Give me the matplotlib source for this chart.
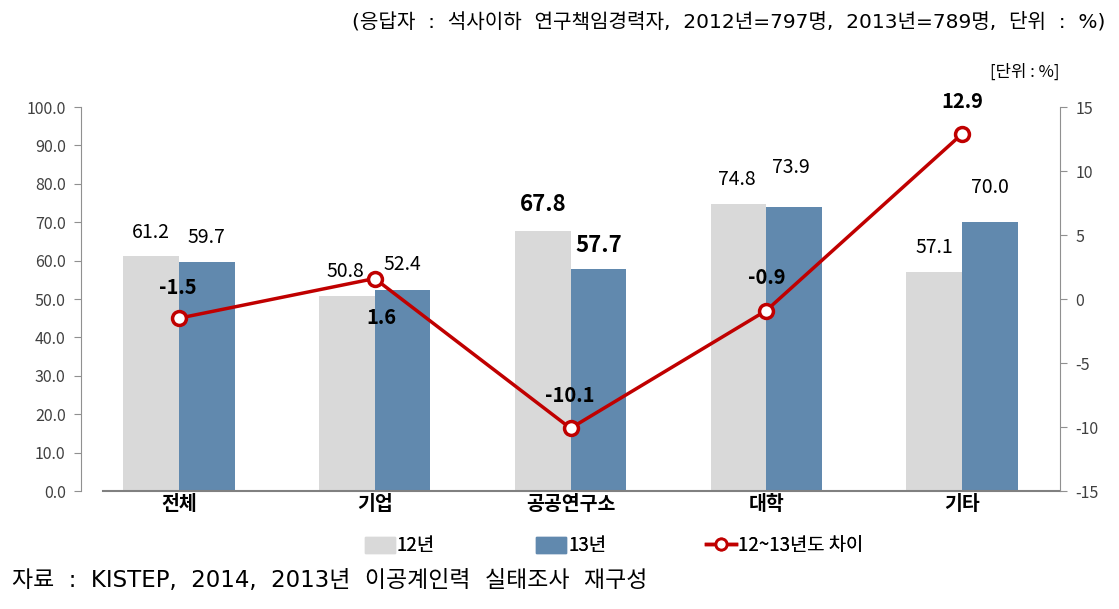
import numpy as np
import matplotlib
matplotlib.use('Agg')
import matplotlib.pyplot as plt
from matplotlib.patches import Patch
from matplotlib.lines import Line2D

plt.rcParams['font.family'] = ['Noto Sans CJK KR', 'DejaVu Sans']

# 데이터
categories = ['전체', '기업', '공공연구소', '대학', '기타']
y2012 = [61.2, 50.8, 67.8, 74.8, 57.1]
y2013 = [59.7, 52.4, 57.7, 73.9, 70.0]
diff = [-1.5, 1.6, -10.1, -0.9, 12.9]

# 라벨 위치 (픽셀 오프셋)
off12 = [(0, 23), (-2, 24), (0, 26), (-2, 24), (0, 24)]
off13 = [(0, 24), (0, 25), (0, 24), (-3, 40), (0, 35)]
offd = [(-1, 31), (7, -39), (-1, 33), (0, 33), (0, 32)]
bold13 = [False, False, True, False, False]

c12 = '#d9d9d9'
c13 = '#6189ae'
cline = '#c00000'
tick_col = '#404040'

fig = plt.figure(figsize=(11.19, 6.09), dpi=100)
ax = fig.add_axes([81 / 1119, 1 - 491 / 609, (1060 - 81) / 1119, (491 - 107) / 609])
ax2 = ax.twinx()

x = np.arange(len(categories))
w = 0.284
ax.bar(x - w / 2, y2012, w, color=c12, zorder=2)
ax.bar(x + w / 2, y2013, w, color=c13, zorder=2)

ax.set_xlim(-0.5, 4.5)
ax.set_ylim(0, 100)
ax.set_yticks(np.arange(0, 101, 10))
ax.set_yticklabels(['%.1f' % v for v in np.arange(0, 101, 10)], fontsize=11.5, color=tick_col)
ax.set_xticks(x)
ax.set_xticklabels(categories, fontsize=14, fontweight='bold')
ax.tick_params(axis='x', length=0, pad=3)
ax.tick_params(axis='y', length=5, color='#909090', pad=6)

for s in ['top', 'bottom']:
    ax.spines[s].set_visible(False)
    ax2.spines[s].set_visible(False)
ax.spines['left'].set_color('#909090')
ax2.spines['right'].set_color('#909090')
ax2.spines['left'].set_visible(False)
ax.spines['right'].set_visible(False)
ax.axhline(0, xmin=22 / 979, xmax=1, color='#808080', lw=1.5, zorder=3, clip_on=False)

# 막대 라벨
for i in range(len(categories)):
    fs = 16 if bold13[i] else 14
    fw = 'bold' if bold13[i] else 'normal'
    ax.annotate('%.1f' % y2012[i], (x[i] - w / 2, y2012[i]), xytext=off12[i],
                textcoords='offset pixels', ha='center', va='center', fontsize=fs, fontweight=fw)
    ax.annotate('%.1f' % y2013[i], (x[i] + w / 2, y2013[i]), xytext=off13[i],
                textcoords='offset pixels', ha='center', va='center', fontsize=fs, fontweight=fw)

# 차이 꺾은선
ax2.plot(x, diff, color=cline, lw=2.5, marker='o', markersize=10,
         markerfacecolor='white', markeredgecolor=cline, markeredgewidth=2.5, zorder=5)
ax2.set_ylim(-15, 15)
ax2.set_yticks(np.arange(-15, 16, 5))
ax2.set_yticklabels([str(v) for v in np.arange(-15, 16, 5)], fontsize=11.5, color=tick_col)
ax2.tick_params(axis='y', length=5, color='#909090', pad=6)
for i in range(len(categories)):
    ax2.annotate('%.1f' % diff[i], (x[i], diff[i]), xytext=offd[i],
                 textcoords='offset pixels', ha='center', va='center',
                 fontsize=14.5, fontweight='bold', zorder=6)

# 범례 (항목별로 따로 배치)
handles = [Patch(color=c12, label='12년'), Patch(color=c13, label='13년'),
           Line2D([0], [0], color=cline, lw=2.5, marker='o', markersize=8,
                  markerfacecolor='white', markeredgecolor=cline, markeredgewidth=2,
                  label='12~13년도 차이')]
leg_x = [365, 536, 706]
for h, lx in zip(handles, leg_x):
    leg = fig.legend(handles=[h], loc='center left', bbox_to_anchor=(lx / 1119, 1 - 546 / 609),
                     frameon=False, fontsize=13.5, handlelength=1.6, handleheight=0.9,
                     handletextpad=0.1, borderpad=0, borderaxespad=0)
    fig.add_artist(leg)

# 텍스트
fam = ['DejaVu Sans', 'Noto Sans CJK KR']
fig.text(1105 / 1119, 1 - 22 / 609,
         '(응답자  :  석사이하  연구책임경력자,  2012년=797명,  2013년=789명,  단위  :  %)',
         ha='right', va='center', fontsize=14.5, family=fam)
fig.text(1060 / 1119, 1 - 72 / 609, '[단위 : %]', ha='right', va='center', fontsize=12)
fig.text(12 / 1119, 1 - 581 / 609, '자료  :  KISTEP,  2014,  2013년  이공계인력  실태조사  재구성',
         ha='left', va='center', fontsize=16.5, family=fam)

fig.savefig('out.png', dpi=100)
